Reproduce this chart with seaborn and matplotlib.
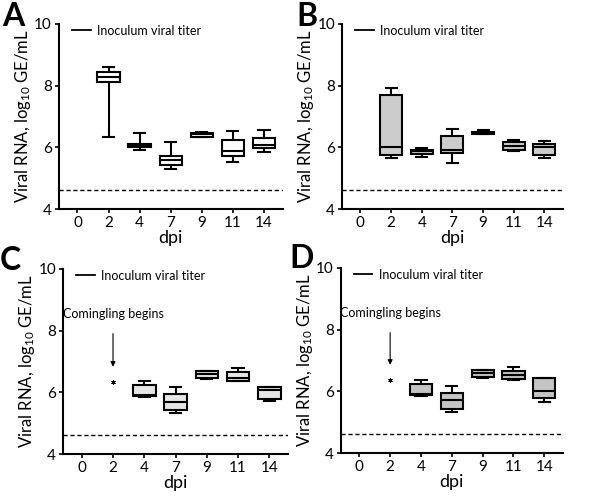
import matplotlib
matplotlib.use("Agg")
import matplotlib.pyplot as plt
from matplotlib.lines import Line2D
import numpy as np
import pandas as pd
import seaborn as sns

# categories on the x axis (days post inoculation)
dpi_labels = ["0", "2", "4", "7", "9", "11", "14"]

# five-number summaries per day: [min, q1, median, q3, max]
panel_a = {
    "2": [6.33, 8.11, 8.27, 8.44, 8.62],
    "4": [5.90, 6.01, 6.06, 6.12, 6.48],
    "7": [5.31, 5.42, 5.58, 5.73, 6.16],
    "9": [6.35, 6.35, 6.42, 6.48, 6.50],
    "11": [5.51, 5.71, 5.89, 6.25, 6.54],
    "14": [5.84, 5.97, 6.09, 6.29, 6.57],
}
panel_b = {
    "2": [5.67, 5.75, 6.02, 7.69, 7.92],
    "4": [5.68, 5.79, 5.87, 5.93, 5.97],
    "7": [5.49, 5.81, 5.90, 6.38, 6.59],
    "9": [6.42, 6.42, 6.46, 6.50, 6.55],
    "11": [5.89, 5.92, 6.06, 6.16, 6.25],
    "14": [5.67, 5.75, 6.02, 6.12, 6.22],
}
panel_c = {
    "4": [5.85, 5.88, 5.90, 6.24, 6.37],
    "7": [5.32, 5.42, 5.70, 5.95, 6.18],
    "9": [6.44, 6.46, 6.58, 6.68, 6.70],
    "11": [6.36, 6.38, 6.46, 6.66, 6.80],
    "14": [5.73, 5.78, 6.08, 6.17, 6.19],
}
panel_d = {
    "4": [5.85, 5.88, 5.90, 6.23, 6.37],
    "7": [5.33, 5.42, 5.72, 5.94, 6.18],
    "9": [6.44, 6.46, 6.58, 6.68, 6.70],
    "11": [6.37, 6.40, 6.52, 6.65, 6.79],
    "14": [5.65, 5.79, 6.00, 6.42, 6.43],
}
# single value at dpi 2 in C and D
single_c = 6.34
single_d = 6.37

detection_limit = 4.62
panel_letters = ["A", "B", "C", "D"]
box_colors = ["white", "#cccccc", "#e6e6e6", "#c4c4c4"]

plt.rcParams["font.family"] = ["Lato", "DejaVu Sans"]
plt.rcParams["mathtext.fontset"] = "custom"
plt.rcParams["mathtext.rm"] = "Lato"
plt.rcParams["mathtext.it"] = "Lato:italic"

fig = plt.figure(figsize=(6, 4.99), dpi=100)
positions = [
    [0.098, 0.581, 0.373, 0.371],
    [0.570, 0.581, 0.368, 0.371],
    [0.105, 0.090, 0.375, 0.371],
    [0.568, 0.092, 0.370, 0.371],
]
letter_pos = [(0.003, 0.995), (0.494, 0.995), (0.0, 0.508), (0.482, 0.512)]


def to_frame(stats):
    rows = []
    for day, vals in stats.items():
        for v in vals:
            rows.append({"dpi": day, "rna": v})
    return pd.DataFrame(rows)


for i, stats in enumerate([panel_a, panel_b, panel_c, panel_d]):
    ax = fig.add_axes(positions[i])
    df = to_frame(stats)
    sns.boxplot(data=df, x="dpi", y="rna", order=dpi_labels, whis=(0, 100),
                color=box_colors[i], saturation=1, width=0.72, ax=ax,
                linecolor="black", linewidth=1.5, showfliers=False)
    ax.axhline(detection_limit, color="black", ls=(0, (3, 2)), lw=1)

    if i >= 2:
        single = single_c if i == 2 else single_d
        ax.scatter([1], [single], marker=(6, 2, 0), s=8, color="black", lw=0.6)
        ax.annotate("Comingling begins", xy=(1, single + 0.4), xytext=(1, 8.55),
                    ha="center", va="center", fontsize=9,
                    arrowprops=dict(arrowstyle="-|>", color="black", lw=0.8,
                                    shrinkA=8, mutation_scale=7))

    ax.set_ylim(4, 10)
    ax.set_xlim(-0.6, 6.6)
    ax.set_yticks([4, 6, 8, 10])
    ax.set_xlabel("dpi", fontsize=13, labelpad=0)
    ax.set_ylabel("Viral RNA, log$_{10}$ GE/mL", fontsize=12, labelpad=1)
    ax.tick_params(labelsize=11, width=1.2, length=3, direction="out", pad=2)
    for s in ["top", "right"]:
        ax.spines[s].set_visible(False)
    for s in ["left", "bottom"]:
        ax.spines[s].set_linewidth(1.5)

    handle = Line2D([], [], color="black", lw=1.3)
    ax.legend([handle], ["Inoculum viral titer"], loc="upper left", frameon=False,
              fontsize=9, handlelength=1.5, handletextpad=0.5,
              borderaxespad=0.1, bbox_to_anchor=(0.03, 1.03))

    fig.text(letter_pos[i][0], letter_pos[i][1], panel_letters[i], fontsize=23,
             fontweight="bold", va="top", ha="left")

fig.savefig("out.png", dpi=100)
